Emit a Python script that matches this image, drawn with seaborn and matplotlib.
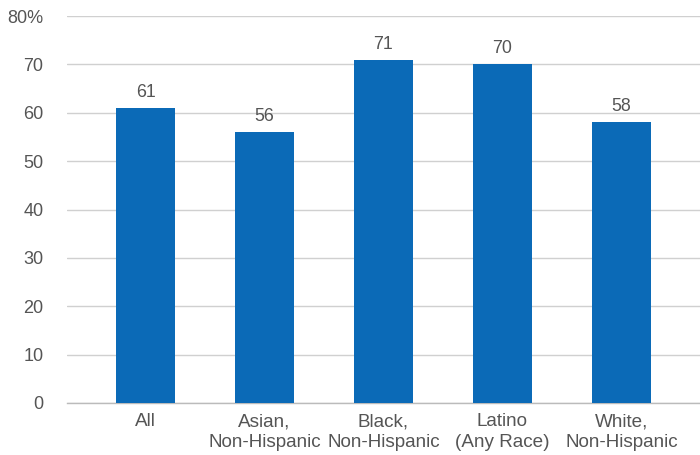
import matplotlib
matplotlib.use("Agg")
import matplotlib.pyplot as plt
import seaborn as sns
import pandas as pd

groups = ["All", "Asian,\nNon-Hispanic", "Black,\nNon-Hispanic",
          "Latino\n(Any Race)", "White,\nNon-Hispanic"]
values = [61, 56, 71, 70, 58]
y_ticks = [0, 10, 20, 30, 40, 50, 60, 70, 80]
y_tick_labels = ["0", "10", "20", "30", "40", "50", "60", "70", "80%"]

df = pd.DataFrame({"group": groups, "value": values})

sns.set_theme(style="white")
plt.rcParams["font.family"] = ["Liberation Sans", "DejaVu Sans"]

text_color = "#555555"
bar_color = "#0B6AB7"

fig = plt.figure(figsize=(7, 4.55), dpi=100)
ax = fig.add_axes([0.0957, 0.1143, 0.9043, 0.8505])

sns.barplot(data=df, x="group", y="value", color=bar_color, width=0.5,
            saturation=1, ax=ax, zorder=3, linewidth=0)

ax.set_xlim(-0.66, 4.66)
ax.set_ylim(0, 80)
ax.set_yticks(y_ticks)
ax.set_yticklabels(y_tick_labels)
ax.set_xlabel("")
ax.set_ylabel("")

ax.yaxis.grid(True, color="#D0D0D0", linewidth=1)
ax.set_axisbelow(True)
for side in ["top", "right", "left"]:
    ax.spines[side].set_visible(False)
ax.spines["bottom"].set_color("#BBBBBB")
ax.spines["bottom"].set_linewidth(1)

ax.tick_params(axis="y", length=0, pad=17, labelsize=13, labelcolor=text_color)
ax.tick_params(axis="x", length=0, pad=7.5, labelsize=13.6, labelcolor=text_color)
for lbl in ax.get_yticklabels():
    lbl.set_horizontalalignment("right")
for lbl in ax.get_xticklabels():
    lbl.set_linespacing(1.3)

for container in ax.containers:
    ax.bar_label(container, labels=[str(v) for v in values], padding=5,
                 fontsize=12.8, color=text_color)

fig.savefig("out.png", dpi=100)
